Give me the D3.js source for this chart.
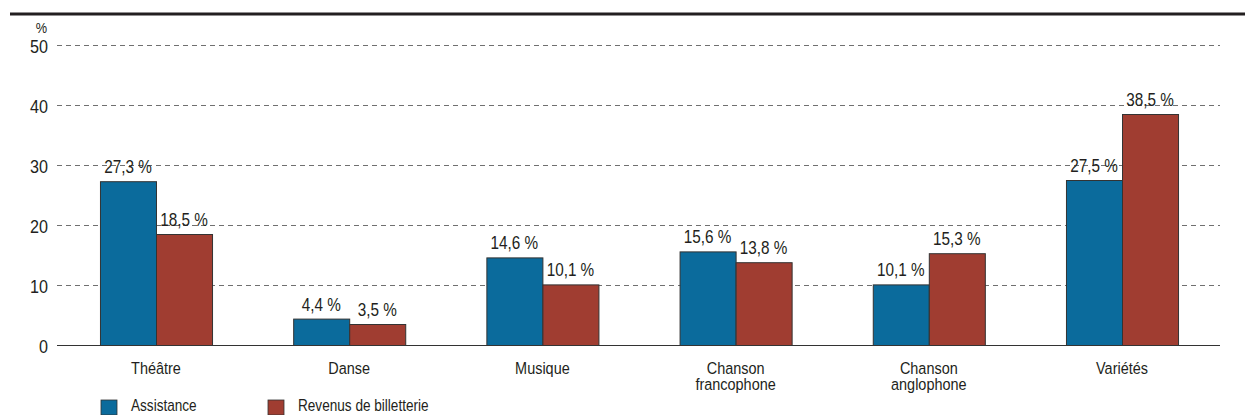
<!DOCTYPE html>
<html>
<head>
<meta charset="utf-8">
<script src="https://d3js.org/d3.v7.min.js"></script>
<style>
  body { margin: 0; background: #fff; }
  svg text { font-family: "Liberation Sans", Arial, sans-serif; fill: #231f20; }
</style>
</head>
<body>
<svg id="chart" width="1245" height="415"></svg>
<script>
// chart data
const categories = [["Théâtre"], ["Danse"], ["Musique"], ["Chanson", "francophone"], ["Chanson", "anglophone"], ["Variétés"]];
const assistance = [27.3, 4.4, 14.6, 15.6, 10.1, 27.5];
const revenus = [18.5, 3.5, 10.1, 13.8, 15.3, 38.5];
const seriesNames = ["Assistance", "Revenus de billetterie"];
const yTicks = [0, 10, 20, 30, 40, 50];

const colors = ["#0b6b9c", "#a03d31"];
const svg = d3.select("#chart");

const gridLeft = 57, gridRight = 1220;
const plotTop = 45, plotBottom = 345;
const narrow = 0.85; // condensed look for the text

const catNames = categories.map(c => c.join(" "));
const x = d3.scaleBand().domain(catNames).range([59.4, 1218.6]).paddingInner(0.42).paddingOuter(0.21);
const x1 = d3.scaleBand().domain(seriesNames).range([0, x.bandwidth()]);
const y = d3.scaleLinear().domain([0, 50]).range([plotBottom, plotTop]);

const place = (px, py) => `translate(${px},${py}) scale(${narrow},1)`;

// top rule
svg.append("line")
  .attr("x1", 10).attr("x2", 1245).attr("y1", 14).attr("y2", 14)
  .attr("stroke", "#231f20").attr("stroke-width", 3);

// gridlines
svg.append("g").selectAll("line")
  .data(yTicks.filter(d => d > 0))
  .join("line")
  .attr("x1", gridLeft).attr("x2", gridRight)
  .attr("y1", d => y(d) + 0.5).attr("y2", d => y(d) + 0.5)
  .attr("stroke", "#707070").attr("stroke-width", 1)
  .attr("stroke-dasharray", "5,4");

// y tick labels
svg.append("g").selectAll("text")
  .data(yTicks)
  .join("text")
  .attr("transform", d => place(48, y(d) + 7.5))
  .attr("text-anchor", "end")
  .attr("font-size", 19)
  .text(d => d);

svg.append("text")
  .attr("transform", place(41.5, 33))
  .attr("text-anchor", "middle")
  .attr("font-size", 15)
  .text("%");

// bars
const rows = catNames.map((c, i) => ({ cat: c, vals: [assistance[i], revenus[i]] }));
const groups = svg.append("g").selectAll("g")
  .data(rows)
  .join("g")
  .attr("transform", d => `translate(${x(d.cat)},0)`);

groups.selectAll("rect")
  .data(d => d.vals.map((v, j) => ({ v, s: seriesNames[j], j })))
  .join("rect")
  .attr("x", d => x1(d.s) + 0.5)
  .attr("y", d => y(d.v) + 0.5)
  .attr("width", x1.bandwidth())
  .attr("height", d => y(0) - y(d.v))
  .attr("fill", d => colors[d.j])
  .attr("stroke", "#333")
  .attr("stroke-width", 1);

groups.selectAll("text.val")
  .data(d => d.vals.map((v, j) => ({ v, s: seriesNames[j] })))
  .join("text")
  .attr("class", "val")
  .attr("transform", d => place(x1(d.s) + x1.bandwidth() / 2, y(d.v) - 8))
  .attr("text-anchor", "middle")
  .attr("font-size", 18)
  .text(d => d3.format(".1f")(d.v).replace(".", ",") + " %");

// baseline
svg.append("line")
  .attr("x1", gridLeft).attr("x2", gridRight)
  .attr("y1", y(0) + 0.5).attr("y2", y(0) + 0.5)
  .attr("stroke", "#333").attr("stroke-width", 1.2);

// category labels
const catLabels = svg.append("g").selectAll("text")
  .data(categories)
  .join("text")
  .attr("transform", (d, i) => place(x(catNames[i]) + x.bandwidth() / 2, 374))
  .attr("text-anchor", "middle")
  .attr("font-size", 17);
catLabels.selectAll("tspan")
  .data(d => d)
  .join("tspan")
  .attr("x", 0)
  .attr("dy", (d, i) => i === 0 ? 0 : 16)
  .text(d => d);

// legend
const legendX = [101, 268];
const legend = svg.append("g").selectAll("g")
  .data(seriesNames)
  .join("g")
  .attr("transform", (d, i) => `translate(${legendX[i]},400)`);
legend.append("rect")
  .attr("width", 16).attr("height", 15)
  .attr("fill", (d, i) => colors[i])
  .attr("stroke", "#333").attr("stroke-width", 0.8);
legend.append("text")
  .attr("transform", place(30, 11))
  .attr("font-size", 16)
  .text(d => d);
</script>
</body>
</html>
